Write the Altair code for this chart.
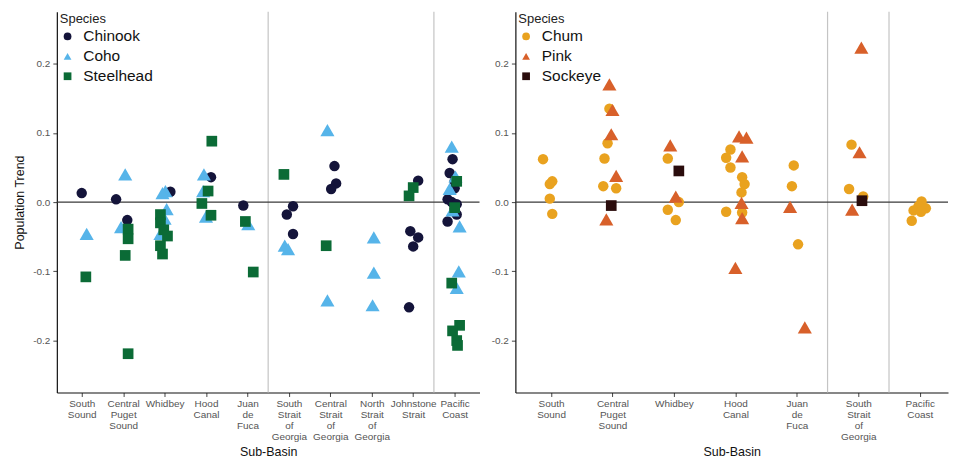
import json
import altair as alt
import pandas as pd

# ---------------- data ----------------
left_basins = ["South Sound", "Central Puget Sound", "Whidbey", "Hood Canal", "Juan de Fuca",
               "South Strait of Georgia", "Central Strait of Georgia", "North Strait of Georgia",
               "Johnstone Strait", "Pacific Coast"]
right_basins = ["South Sound", "Central Puget Sound", "Whidbey", "Hood Canal", "Juan de Fuca",
                "South Strait of Georgia", "Pacific Coast"]
left_dividers = [4.5, 8.5]
right_dividers = [4.5, 5.5]

left_species = ["Chinook", "Coho", "Steelhead"]
right_species = ["Chum", "Pink", "Sockeye"]
left_colors = ["#14143a", "#56b4e9", "#0b6b36"]
right_colors = ["#e9a21f", "#d8602a", "#2a0c0c"]
shapes = ["circle", "triangle-up", "square"]
marker_sizes = [110, 200, 115]

# Chinook
chinook_basin = [0, 1, 1, 2, 3, 4, 5, 5, 5, 6, 6, 6, 8, 8, 8, 8, 8, 9, 9, 9, 9, 9, 9, 9, 9, 9, 9]
chinook_trend = [0.013, 0.004, -0.026, 0.015, 0.036, -0.005, -0.006, -0.018, -0.046, 0.052, 0.027,
                 0.019, 0.031, -0.042, -0.051, -0.064, -0.152, 0.062, 0.042, 0.030, 0.020, 0.004,
                 0.000, -0.003, -0.010, -0.018, -0.028]
chinook_jitter = [0.0, -0.17, 0.1, 0.14, 0.12, -0.1, 0.1, -0.05, 0.1, 0.1, 0.14, 0.02, 0.12, -0.07,
                  0.12, 0.0, -0.1, -0.05, -0.12, 0.0, 0.0, -0.17, -0.07, 0.05, 0.0, 0.05, -0.17]

# Coho
coho_basin = [0, 1, 1, 2, 2, 2, 2, 2, 3, 3, 3, 4, 5, 5, 6, 6, 7, 7, 7, 9, 9, 9, 9, 9, 9, 9]
coho_trend = [-0.046, 0.040, -0.036, 0.016, 0.013, -0.010, -0.024, -0.046, 0.040, 0.016, -0.021,
              -0.032, -0.063, -0.068, 0.104, -0.142, -0.051, -0.102, -0.149, 0.080, 0.037, 0.019,
              -0.012, -0.035, -0.100, -0.124]
coho_jitter = [0.12, 0.05, -0.05, 0.02, -0.05, 0.05, 0.0, -0.1, -0.05, -0.07, 0.0, 0.02, -0.1, -0.02,
               -0.07, -0.07, 0.05, 0.05, 0.02, -0.07, 0.02, -0.12, -0.05, 0.12, 0.1, 0.05]

# Steelhead
steelhead_basin = [0, 1, 1, 1, 1, 2, 2, 2, 2, 2, 2, 3, 3, 3, 3, 4, 4, 5, 6, 8, 8, 9, 9, 9, 9, 9, 9, 9]
steelhead_trend = [-0.108, -0.039, -0.053, -0.077, -0.219, -0.018, -0.030, -0.040, -0.049, -0.063,
                   -0.075, 0.088, 0.016, -0.002, -0.019, -0.028, -0.101, 0.040, -0.063, 0.021, 0.009,
                   0.030, -0.008, -0.117, -0.178, -0.186, -0.200, -0.207]
steelhead_jitter = [0.10, 0.12, 0.12, 0.05, 0.12, -0.1, -0.1, -0.02, 0.07, -0.1, -0.05, 0.14, 0.05,
                    -0.1, 0.12, -0.05, 0.14, -0.12, -0.1, 0.0, -0.1, 0.05, 0.0, -0.07, 0.12, -0.05,
                    0.05, 0.07]

# Chum
chum_basin = [0, 0, 0, 0, 0, 1, 1, 1, 1, 1, 2, 2, 2, 2, 3, 3, 3, 3, 3, 3, 3, 3, 4, 4, 4, 5, 5, 5,
              6, 6, 6, 6, 6, 6]
chum_trend = [0.062, 0.030, 0.026, 0.005, -0.017, 0.135, 0.085, 0.063, 0.023, 0.020, 0.063, 0.000,
              -0.011, -0.026, 0.076, 0.064, 0.050, 0.036, 0.026, 0.014, -0.014, -0.015, 0.053, 0.023,
              -0.061, 0.083, 0.019, 0.008, 0.001, -0.006, -0.009, -0.012, -0.014, -0.027]
chum_jitter = [-0.13, 0.02, -0.02, -0.02, 0.02, -0.05, -0.08, -0.13, -0.15, 0.06, -0.1, 0.08, -0.1,
               0.03, -0.08, -0.15, -0.08, 0.11, 0.15, 0.1, -0.15, 0.11, -0.05, -0.08, 0.02, -0.11,
               -0.15, 0.08, 0.03, -0.02, 0.1, -0.1, 0.02, -0.13]

# Pink
pink_basin = [1, 1, 1, 1, 1, 2, 2, 3, 3, 3, 3, 3, 3, 4, 4, 5, 5, 5]
pink_trend = [0.170, 0.133, 0.098, 0.038, -0.025, 0.082, 0.008, 0.095, 0.093, 0.066, -0.001, -0.023,
              -0.095, -0.007, -0.181, 0.223, 0.072, -0.011]
pink_jitter = [-0.05, 0.0, -0.02, 0.06, -0.1, -0.06, 0.03, 0.06, 0.18, 0.11, 0.1, 0.11, 0.0, -0.11,
               0.13, 0.05, 0.02, -0.1]

# Sockeye
sockeye_basin = [1, 2, 5]
sockeye_trend = [-0.005, 0.045, 0.002]
sockeye_jitter = [-0.02, 0.08, 0.06]


def frame(name, basin, trend, jitter):
    return pd.DataFrame({
        "Species": name,
        "x": [b + j for b, j in zip(basin, jitter)],
        "trend": trend,
    })


left_df = pd.concat([
    frame("Chinook", chinook_basin, chinook_trend, chinook_jitter),
    frame("Coho", coho_basin, coho_trend, coho_jitter),
    frame("Steelhead", steelhead_basin, steelhead_trend, steelhead_jitter),
], ignore_index=True)
right_df = pd.concat([
    frame("Chum", chum_basin, chum_trend, chum_jitter),
    frame("Pink", pink_basin, pink_trend, pink_jitter),
    frame("Sockeye", sockeye_basin, sockeye_trend, sockeye_jitter),
], ignore_index=True)

FONT = "Liberation Sans"


def panel(df, basins, dividers, species, colors, width, xdomain, ytitle):
    n = len(basins)
    xscale = alt.Scale(domain=xdomain, nice=False, zero=False)
    yscale = alt.Scale(domain=[-0.275, 0.275], nice=False, zero=False)
    labels_js = json.dumps(basins)
    xaxis = alt.Axis(values=list(range(n)),
                     labelExpr=f"split({labels_js}[round(datum.value)], ' ')",
                     title="Sub-Basin", grid=False, labelLineHeight=11,
                     labelAngle=0, labelBaseline="top")
    yaxis = alt.Axis(values=[-0.2, -0.1, 0.0, 0.1, 0.2],
                     labelExpr="replace(format(datum.value, '.1f'), '\u2212', '-')",
                     title=ytitle, grid=False, labelPadding=3, titlePadding=6)

    div_df = pd.DataFrame({"d": dividers})
    zero_df = pd.DataFrame({"z": [0.0]})

    dividers_layer = alt.Chart(div_df).mark_rule(color="#c4c4c4", strokeWidth=1.2).encode(
        x=alt.X("d:Q", scale=xscale, axis=xaxis),
    )
    zero_layer = alt.Chart(zero_df).mark_rule(color="#3a3a3a", strokeWidth=1.3).encode(
        y=alt.Y("z:Q", scale=yscale, axis=yaxis),
    )
    legend = alt.Legend(orient="none", legendX=3, legendY=1, title="Species",
                        titleFontSize=13, titleFontWeight="normal", titleColor="#222",
                        titleFont=FONT, labelFont=FONT, labelFontSize=15.5, labelColor="#111",
                        symbolSize=60, rowPadding=3, labelOffset=8, titlePadding=3,
                        symbolStrokeWidth=0)
    layers = [dividers_layer, zero_layer]
    for sp, sz in zip(species, marker_sizes):
        layers.append(
            alt.Chart(df).transform_filter(alt.datum.Species == sp)
            .mark_point(filled=True, opacity=1, size=sz).encode(
                x=alt.X("x:Q", scale=xscale, axis=xaxis),
                y=alt.Y("trend:Q", scale=yscale, axis=yaxis),
                color=alt.Color("Species:N", scale=alt.Scale(domain=species, range=colors),
                                legend=legend),
                shape=alt.Shape("Species:N", scale=alt.Scale(domain=species, range=shapes),
                                legend=legend),
            )
        )
    return alt.layer(*layers).properties(width=width, height=382)


left = panel(left_df, left_basins, left_dividers, left_species, left_colors, 424,
             [-0.6, 9.6], "Population Trend")
right = panel(right_df, right_basins, right_dividers, right_species, right_colors, 434,
              [-0.58, 6.46], "")

chart = alt.hconcat(left, right, spacing=10).resolve_scale(
    color="independent", shape="independent", x="independent"
).resolve_legend(color="independent", shape="independent").properties(
    padding={"left": 5, "top": 2, "right": 0, "bottom": 0}
).configure_view(stroke=None).configure_axis(
    labelFont=FONT, titleFont=FONT, labelFontSize=10, labelColor="#555555",
    titleFontSize=12.5, titleFontWeight="normal", titleColor="#111111",
    domainColor="#111111", domainWidth=1.2, tickColor="#444444", tickSize=4,
    labelPadding=2, titlePadding=4,
)

chart.save("out.html", embed_options={"renderer": "svg", "actions": False})
